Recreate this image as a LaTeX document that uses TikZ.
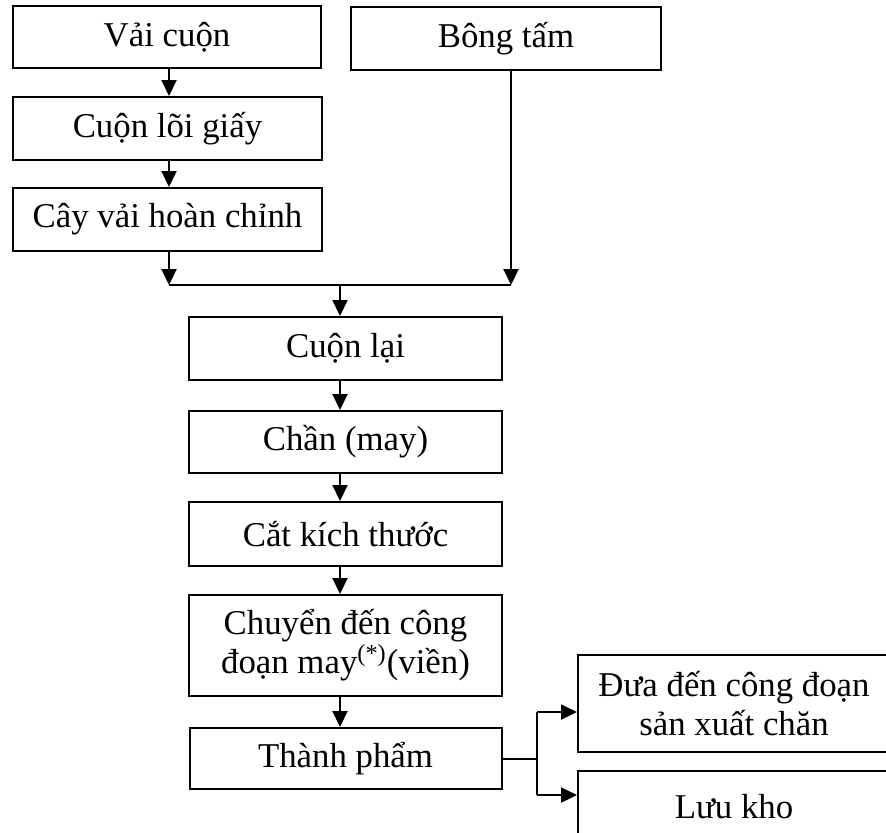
\documentclass[tikz,border=0pt]{standalone}
\usepackage{fontspec}
\setmainfont{Liberation Serif}
\usetikzlibrary{arrows.meta,calc}
\begin{document}
\begin{tikzpicture}[x=0.5pt,y=-0.5pt,
  box/.style={draw,line width=1pt,rectangle,inner sep=0pt,align=center,font=\fontsize{17.4}{19.5}\selectfont},
  arr/.style={line width=1pt,-{Triangle[length=8pt,width=7.5pt]}},
  ln/.style={line width=1pt}]
\useasboundingbox (0,0) rectangle (886,832);
% left column
\node[box,minimum width=154pt,minimum height=31pt] (vai) at (167,37) {Vải cuộn};
\node[box,minimum width=154.5pt,minimum height=31.5pt] (cuon) at (167.5,128.5) {Cuộn lõi giấy};
\node[box,minimum width=154.5pt,minimum height=31.5pt] (cay) at (167.5,219.5) {Cây vải hoàn chỉnh};
\node[box,minimum width=155pt,minimum height=31.5pt] (bong) at (506,38.5) {Bông tấm};
% centre column
\node[box,minimum width=156.5pt,minimum height=31.5pt] (cl) at (345.5,348.5) {Cuộn lại};
\node[box,minimum width=156.5pt,minimum height=31pt] (chan) at (345.5,442) {Chần (may)};
\node[box,minimum width=156.5pt,minimum height=32pt] (cat) at (345.5,534) {Cắt kích thước};
\node[box,minimum width=156.5pt,minimum height=50.5pt] (chuyen) at (345.5,645.5) {Chuyển đến công\\đoạn may\textsuperscript{(*)}(viền)};
\node[box,minimum width=156pt,minimum height=30.5pt] (tp) at (345.5,758.5) {Thành phẩm};
% right column
\node[box,minimum width=156pt,minimum height=48.5pt] (dua) at (734,703.5) {Đưa đến công đoạn\\sản xuất chăn};
\node[box,minimum width=156pt,minimum height=36pt] (luu) at (734,807) {Lưu kho};
% helper coordinates
\coordinate (lx) at (169,0);
\coordinate (cx) at (340,0);
\coordinate (jl) at (169,285);
\coordinate (jr) at (511,285);
\coordinate (b1) at (537,712);
\coordinate (b2) at (537,795);
% connectors
\draw[arr] (vai.south -| lx) -- (cuon.north -| lx);
\draw[arr] (cuon.south -| lx) -- (cay.north -| lx);
\draw[arr] (cay.south -| jl) -- (jl);
\draw[arr] (bong.south -| jr) -- (jr);
\draw[ln] (jl) -- (jr);
\draw[arr] (cx |- jl) -- (cl.north -| cx);
\draw[arr] (cl.south -| cx) -- (chan.north -| cx);
\draw[arr] (chan.south -| cx) -- (cat.north -| cx);
\draw[arr] (cat.south -| cx) -- (chuyen.north -| cx);
\draw[arr] (chuyen.south -| cx) -- (tp.north -| cx);
\draw[ln] (tp.east) -- (tp.east -| b1);
\draw[ln] (b1) -- (b2);
\draw[arr] (b1) -- (b1 -| dua.west);
\draw[arr] (b2) -- (b2 -| luu.west);
\end{tikzpicture}
\end{document}
